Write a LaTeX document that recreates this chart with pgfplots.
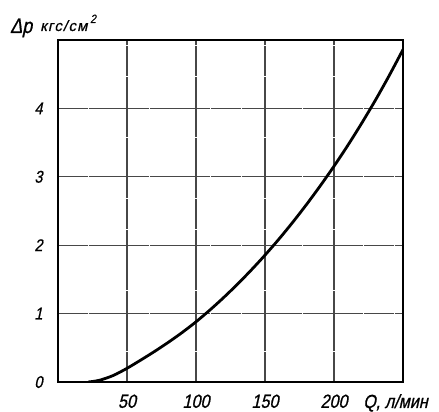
\documentclass[border=0pt]{standalone}
\usepackage{fontspec}
\setmainfont{Liberation Sans}
\newfontfamily\gost{Liberation Sans}[FakeSlant=0.22,FakeStretch=0.85,FakeBold=0.8]
\newfontfamily\gostw{Liberation Sans}[FakeSlant=0.22,LetterSpace=8,FakeBold=0.6]
\usepackage{pgfplots}
\pgfplotsset{compat=1.18}
\begin{document}
\begin{tikzpicture}
\begin{axis}[name=ax, scale only axis, width=345pt, height=342pt,
  xmin=0, xmax=250, ymin=0, ymax=5,
  xtick={50,100,150,200}, ytick={0,1,2,3,4},
  grid=major,
  major grid style={black!72, line width=1.3pt, dash pattern=on 30pt off 0.6pt},
  axis line style={line width=2.6pt},
  major tick length=0pt,
  /pgf/number format/assume math mode=true,
  xticklabel style={font=\gost\fontsize{19}{19}\selectfont, yshift=-9pt},
  yticklabel style={font=\gost\fontsize{17}{17}\selectfont, xshift=-12pt},
]
\addplot[smooth, line width=2.8pt, black] coordinates {
(22,0) (30,0.025) (40,0.095) (50,0.2) (60,0.321) (70,0.447) (80,0.581) (90,0.724)
(100,0.88) (110,1.051) (120,1.234) (130,1.429) (140,1.636) (150,1.855)
(160,2.087) (170,2.333) (180,2.593) (190,2.867) (200,3.155) (210,3.459)
(220,3.781) (230,4.12) (240,4.48) (250,4.86)};
\end{axis}
\node[anchor=base west, inner sep=0pt] at ([xshift=-48pt,yshift=7pt]ax.north west)
  {\gost\fontsize{21}{21}\selectfont Δp};
\node[anchor=base west, inner sep=0pt] at ([xshift=-18pt,yshift=9pt]ax.north west)
  {\gostw\fontsize{15}{15}\selectfont кгс/см};
\node[anchor=base west, inner sep=0pt] at ([xshift=32pt,yshift=17pt]ax.north west)
  {\gost\fontsize{12}{12}\selectfont 2};
\node[anchor=base west, inner sep=0pt] at ([xshift=305pt,yshift=-26pt]ax.south west)
  {\gost\fontsize{19}{19}\selectfont Q, л/мин};
\useasboundingbox ([xshift=-58pt,yshift=-28pt]ax.south west) rectangle ([xshift=381pt,yshift=382pt]ax.south west);
\end{tikzpicture}
\end{document}
